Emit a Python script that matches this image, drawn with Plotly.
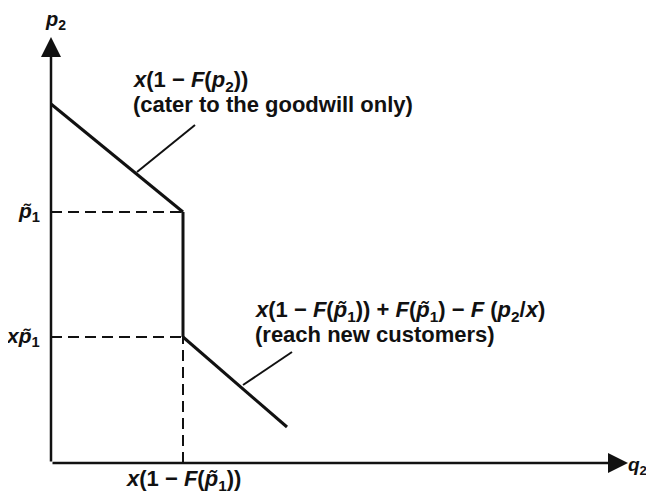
import plotly.graph_objects as go

# ---- data (q2 on horizontal axis, p2 on vertical axis; arbitrary units) ----
q_tilde = 132          # x(1 - F(p~1))
p_tilde = 251          # p~1
xp_tilde = 126         # x p~1

goodwill_q = [0, q_tilde]
goodwill_p = [359, p_tilde]

drop_q = [q_tilde, q_tilde]
drop_p = [p_tilde, xp_tilde]

newcust_q = [q_tilde, 236]
newcust_p = [xp_tilde, 36]

leader1_q = [86, 144]
leader1_p = [291, 338]
leader2_q = [192, 241]
leader2_p = [78, 111]

q_max = 577
p_max = 426

y_tick_vals = [p_tilde, xp_tilde]
y_tick_text = ["<i>p̃</i><sub>1</sub>", "<i>xp̃</i><sub>1</sub>"]
x_tick_vals = [q_tilde]
x_tick_text = ["<i>x</i>(1 − <i>F</i>(<i>p̃</i><sub>1</sub>))"]

label1_lines = ["<i>x</i>(1 − <i>F</i>(<i>p</i><sub>2</sub>))",
                "(cater to the goodwill only)"]
label1_x, label1_y = 81, [382, 359]
label2_lines = ["<i>x</i>(1 − <i>F</i>(<i>p̃</i><sub>1</sub>)) + <i>F</i>(<i>p̃</i><sub>1</sub>) − "
                "<i>F</i> (<i>p</i><sub>2</sub>/<i>x</i>)",
                "(reach new customers)"]
label2_x, label2_y = 203, [152, 129]

FONT = "Liberation Sans, Arial, sans-serif"
INK = "#111111"
FS = 22

fig = go.Figure()

solid = dict(color=INK, width=3)
for q, p in [(goodwill_q, goodwill_p), (drop_q, drop_p), (newcust_q, newcust_p)]:
    fig.add_trace(go.Scatter(x=q, y=p, mode="lines", line=solid, hoverinfo="skip"))

thin = dict(color=INK, width=2)
for q, p in [(leader1_q, leader1_p), (leader2_q, leader2_p)]:
    fig.add_trace(go.Scatter(x=q, y=p, mode="lines", line=thin, hoverinfo="skip"))

dash = dict(color=INK, width=2, dash="11px,6px")
fig.add_trace(go.Scatter(x=[0, q_tilde], y=[p_tilde, p_tilde], mode="lines", line=dash, hoverinfo="skip"))
fig.add_trace(go.Scatter(x=[0, q_tilde], y=[xp_tilde, xp_tilde], mode="lines", line=dash, hoverinfo="skip"))
fig.add_trace(go.Scatter(x=[q_tilde, q_tilde], y=[0, xp_tilde], mode="lines", line=dash, hoverinfo="skip"))

annotations = []
# axes with arrowheads
for (tx, ty) in [(q_max, 0), (0, p_max)]:
    annotations.append(dict(x=tx, y=ty, ax=0, ay=0, xref="x", yref="y", axref="x", ayref="y",
                            showarrow=True, arrowhead=2, arrowsize=1.6, arrowwidth=2.5,
                            arrowcolor=INK, text="", standoff=0, startstandoff=0))
# axis titles
annotations.append(dict(x=q_max - 1, y=-3, text="<b><i>q</i><sub>2</sub></b>", showarrow=False,
                        xanchor="left", yanchor="middle", borderpad=0,
                        font=dict(size=19, family=FONT, color=INK)))
annotations.append(dict(x=4, y=443, text="<b><i>p</i><sub>2</sub></b>", showarrow=False,
                        xanchor="center", yanchor="middle", font=dict(size=20, family=FONT, color=INK)))
# tick labels
for v, t in zip(y_tick_vals, y_tick_text):
    annotations.append(dict(x=-10, y=v, text="<b>" + t + "</b>", showarrow=False, xanchor="right",
                            yanchor="middle", borderpad=0, font=dict(size=21, family=FONT, color=INK)))
for v, t in zip(x_tick_vals, x_tick_text):
    annotations.append(dict(x=v, y=-17, text="<b>" + t + "</b>", showarrow=False, xanchor="center",
                            yanchor="middle", borderpad=0, font=dict(size=22, family=FONT, color=INK)))
# curve labels
for lines, lx, lys in [(label1_lines, label1_x, label1_y), (label2_lines, label2_x, label2_y)]:
    for t, ly in zip(lines, lys):
        annotations.append(dict(x=lx, y=ly, text="<b>" + t + "</b>", showarrow=False,
                                xanchor="left", yanchor="middle", align="left", borderpad=0,
                                font=dict(size=FS, family=FONT, color=INK)))

fig.update_layout(
    width=646, height=486,
    margin=dict(l=0, r=0, t=0, b=0),
    paper_bgcolor="white", plot_bgcolor="white",
    showlegend=False,
    xaxis=dict(range=[-43, 603], visible=False, fixedrange=True),
    yaxis=dict(range=[-31, 455], visible=False, fixedrange=True),
    annotations=annotations,
)

fig.write_html("out.html")
